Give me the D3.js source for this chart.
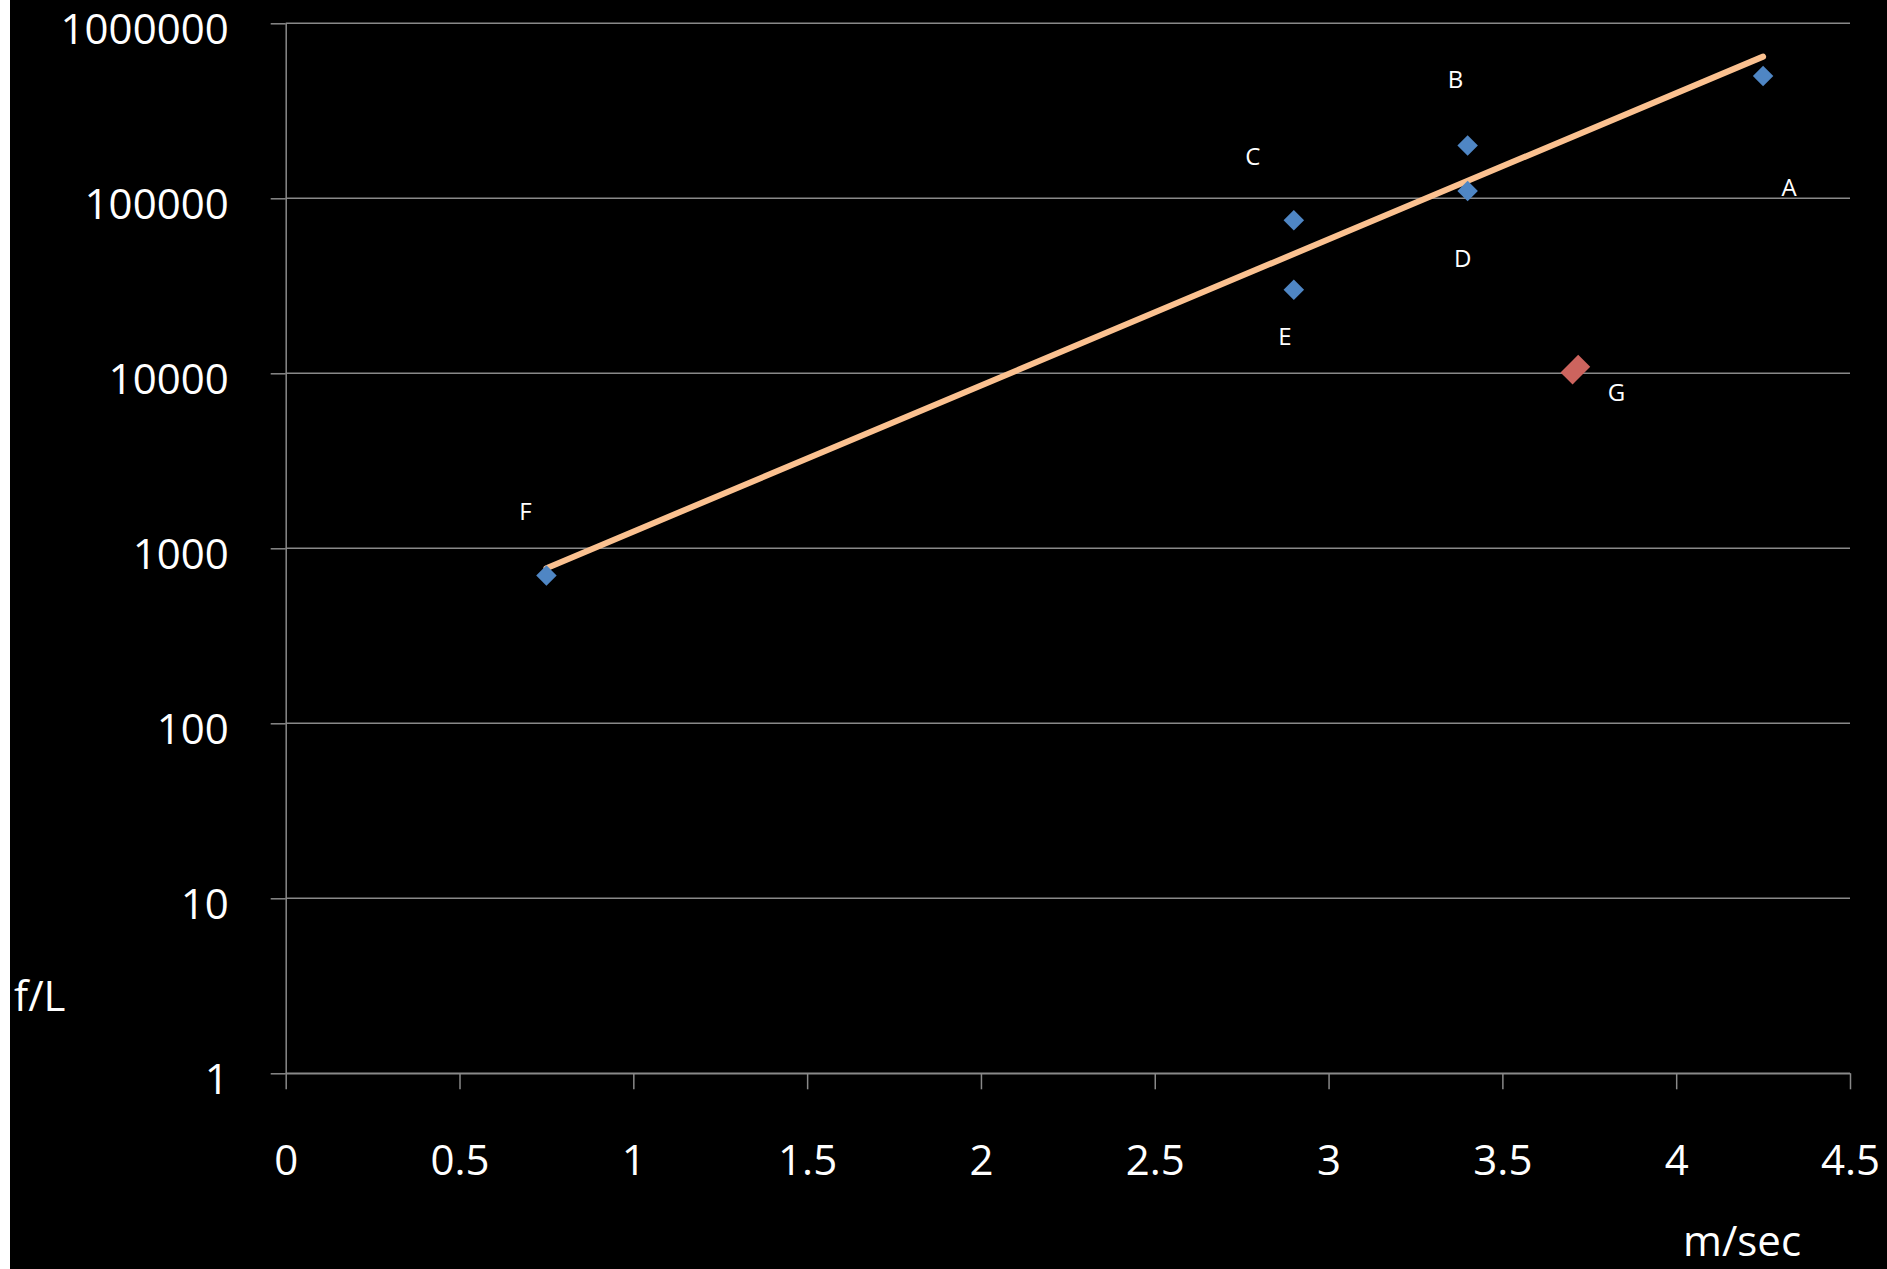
<!DOCTYPE html>
<html>
<head>
<meta charset="utf-8">
<script src="https://cdn.jsdelivr.net/npm/d3@7"></script>
<style>
  html, body { margin: 0; padding: 0; background: #fff; overflow: hidden; }
  svg { display: block; }
</style>
</head>
<body>
<div id="svg-container"></div>
<script>
// measured points (velocity m/sec vs f/L)
const pointNames = ['A', 'B', 'C', 'D', 'E', 'F']
const speeds = [4.25, 3.4, 2.9, 3.4, 2.9, 0.75]
const counts = [500000, 200000, 75000, 110000, 30000, 700]

// the odd one out, drawn in red
const outlierNames = ['G']
const outlierSpeeds = [3.71]
const outlierCounts = [10500]

// exponential trendline, read at its two ends
const trendSpeeds = [0.75, 4.25]
const trendCounts = [770, 645000]

const xTickValues = [0, 0.5, 1, 1.5, 2, 2.5, 3, 3.5, 4, 4.5]
const yTickValues = [1, 10, 100, 1000, 10000, 100000, 1000000]

const xAxisTitle = 'm/sec'
const yAxisTitle = 'f/L'

// where each data label sits relative to its marker (px)
const labelOffsets = {
  A: [26, 111],
  B: [-12, -67],
  C: [-41, -65],
  D: [-5, 66],
  E: [-9, 46],
  F: [-21, -65],
  G: [41, 22],
}

const svgWidth = 1887
const svgHeight = 1269
const plotLeft = 285.7
const plotRight = 1850
const plotTop = 23.3
const plotBottom = 1073.3

const gridColor = '#898989'
const blue = '#4f86c4'
const red = '#cd645e'
const trendColor = '#fbc190'
const fontFamily = '"Open Sans", "Noto Sans", sans-serif'

const svg = d3
  .select('#svg-container')
  .append('svg')
  .attr('width', svgWidth)
  .attr('height', svgHeight)
  .style('font-family', fontFamily)

svg
  .append('rect')
  .attr('x', 10)
  .attr('y', 0)
  .attr('width', svgWidth - 10)
  .attr('height', svgHeight)
  .attr('fill', '#000')

const xScale = d3.scaleLinear().domain([0, 4.5]).range([plotLeft, plotRight])
const yScale = d3.scaleLog().domain([1, 1e6]).range([plotBottom, plotTop])

// horizontal gridlines
svg
  .append('g')
  .selectAll('line')
  .data(yTickValues)
  .join('line')
  .attr('x1', plotLeft)
  .attr('x2', plotRight)
  .attr('y1', d => yScale(d))
  .attr('y2', d => yScale(d))
  .attr('stroke', gridColor)
  .attr('stroke-width', 1.5)

// y-axis
const yAxis = svg
  .append('g')
  .attr('transform', `translate(${plotLeft}, 0)`)
  .call(
    d3
      .axisLeft(yScale)
      .tickValues(yTickValues)
      .tickFormat(d3.format('d'))
      .tickSize(15)
      .tickSizeOuter(0)
      .tickPadding(42),
  )
yAxis.select('.domain').attr('stroke', gridColor).attr('stroke-width', 1.5)
yAxis.selectAll('.tick line').attr('stroke', gridColor).attr('stroke-width', 1.5)
yAxis
  .selectAll('.tick text')
  .attr('fill', '#fff')
  .attr('dy', 20)
  .style('font-size', '42px')
  .style('font-family', fontFamily)

// x-axis
const xAxis = svg
  .append('g')
  .attr('transform', `translate(0, ${plotBottom})`)
  .call(
    d3
      .axisBottom(xScale)
      .tickValues(xTickValues)
      .tickFormat(d3.format('~g'))
      .tickSize(16)
      .tickSizeOuter(0),
  )
xAxis.select('.domain').attr('stroke', gridColor).attr('stroke-width', 1.5)
xAxis.selectAll('.tick line').attr('stroke', gridColor).attr('stroke-width', 1.5)
xAxis
  .selectAll('.tick text')
  .attr('fill', '#fff')
  .attr('y', 102)
  .attr('dy', 0)
  .style('font-size', '42px')
  .style('font-family', fontFamily)

// axis titles
svg
  .append('text')
  .text(yAxisTitle)
  .attr('x', 14)
  .attr('y', 1011)
  .attr('fill', '#fff')
  .style('font-size', '42px')

svg
  .append('text')
  .text(xAxisTitle)
  .attr('x', 1683)
  .attr('y', 1256)
  .attr('fill', '#fff')
  .style('font-size', '42px')

// trendline
svg
  .append('path')
  .attr(
    'd',
    d3
      .line()
      .x(d => xScale(d[0]))
      .y(d => yScale(d[1]))(d3.zip(trendSpeeds, trendCounts)),
  )
  .attr('fill', 'none')
  .attr('stroke', trendColor)
  .attr('stroke-width', 6)
  .attr('stroke-linecap', 'round')

const points = pointNames.map((name, i) => ({
  name,
  speed: speeds[i],
  count: counts[i],
}))
const outliers = outlierNames.map((name, i) => ({
  name,
  speed: outlierSpeeds[i],
  count: outlierCounts[i],
}))

// blue diamonds
svg
  .append('g')
  .selectAll('path')
  .data(points)
  .join('path')
  .attr('d', d3.symbol(d3.symbolSquare, 210))
  .attr(
    'transform',
    d => `translate(${xScale(d.speed)}, ${yScale(d.count)}) rotate(45)`,
  )
  .attr('fill', blue)

// red marker, a bit bigger and stretched
svg
  .append('g')
  .selectAll('rect')
  .data(outliers)
  .join('rect')
  .attr('x', -8.5)
  .attr('y', -12.5)
  .attr('width', 17)
  .attr('height', 25)
  .attr(
    'transform',
    d => `translate(${xScale(d.speed)}, ${yScale(d.count)}) rotate(45)`,
  )
  .attr('fill', red)

// data labels
svg
  .append('g')
  .selectAll('text')
  .data([...points, ...outliers])
  .join('text')
  .text(d => d.name)
  .attr('x', d => xScale(d.speed) + labelOffsets[d.name][0])
  .attr('y', d => yScale(d.count) + labelOffsets[d.name][1])
  .attr('text-anchor', 'middle')
  .attr('dominant-baseline', 'central')
  .attr('fill', '#fff')
  .style('font-size', '24px')
</script>
</body>
</html>
